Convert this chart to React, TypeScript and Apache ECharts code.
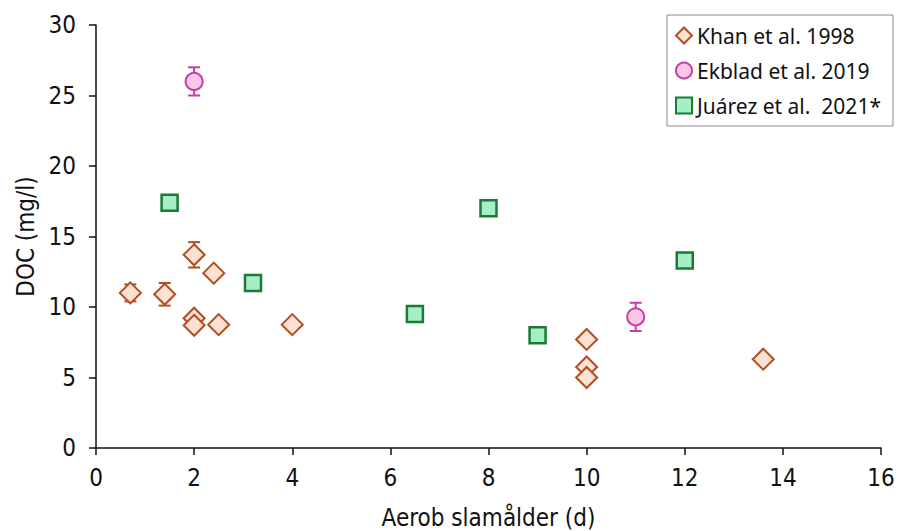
import React, { useEffect, useRef } from "react";
import * as echarts from "echarts";

const khanX = [0.7, 1.4, 2, 2.4, 2, 2, 2.5, 4, 10, 10, 10, 13.6];
const khanY = [11.0, 10.9, 13.7, 12.4, 9.2, 8.7, 8.75, 8.75, 7.7, 5.75, 5.0, 6.3];
const khanErr = [0.6, 0.8, 0.9, 0.3, 0, 0, 0, 0, 0, 0, 0, 0];

const ekbladX = [2, 11];
const ekbladY = [26.0, 9.3];
const ekbladErr = [1.0, 1.0];

const juarezX = [1.5, 3.2, 6.5, 8, 9, 12];
const juarezY = [17.4, 11.7, 9.5, 17.0, 8.0, 13.3];

const seriesNames = ["Khan et al. 1998", "Ekblad et al. 2019", "Juárez et al.  2021*"];

const KHAN_STROKE = "#b04e22";
const KHAN_FILL = "#fde1d3";
const EK_STROKE = "#c83ca8";
const EK_FILL = "#f8c8e6";
const JU_STROKE = "#1a7a36";
const JU_FILL = "#a6eec6";

const tickFont = "'DejaVu Sans Condensed', 'Liberation Sans Narrow', sans-serif";
const legendFont = "'Noto Sans', 'Open Sans', sans-serif";

function errData(xs: number[], ys: number[], es: number[]) {
  const out: number[][] = [];
  xs.forEach((x, i) => {
    if (es[i] > 0) out.push([x, ys[i] - es[i], ys[i] + es[i]]);
  });
  return out;
}

function errSeries(data: number[][], color: string) {
  return {
    type: "custom",
    silent: true,
    z: 1,
    data,
    renderItem: (params: any, api: any) => {
      const x = api.value(0);
      const lo = api.coord([x, api.value(1)]);
      const hi = api.coord([x, api.value(2)]);
      const w = 6;
      const style = { stroke: color, lineWidth: 2 };
      return {
        type: "group",
        children: [
          { type: "line", shape: { x1: lo[0], y1: lo[1], x2: hi[0], y2: hi[1] }, style },
          { type: "line", shape: { x1: lo[0] - w, y1: lo[1], x2: lo[0] + w, y2: lo[1] }, style },
          { type: "line", shape: { x1: hi[0] - w, y1: hi[1], x2: hi[0] + w, y2: hi[1] }, style },
        ],
      };
    },
  };
}

export default function App() {
  const ref = useRef<HTMLDivElement>(null);
  useEffect(() => {
    if (!ref.current) return;
    const chart = echarts.init(ref.current, null, { renderer: "svg" });
    chart.setOption({
      animation: false,
      backgroundColor: "#ffffff",
      grid: { left: 96, right: 17, top: 25, bottom: 83, containLabel: false, outerBoundsMode: "none" },
      legend: {
        orient: "vertical",
        left: 667,
        top: 15,
        padding: [10, 12, 10, 8],
        itemGap: 14,
        itemWidth: 16,
        itemHeight: 16,
        borderColor: "#8a8a8a",
        borderWidth: 1,
        backgroundColor: "#ffffff",
        textStyle: { fontFamily: legendFont, fontSize: 21, color: "#111" },
        data: [
          { name: seriesNames[0], icon: "diamond" },
          { name: seriesNames[1], icon: "circle" },
          { name: seriesNames[2], icon: "rect" },
        ],
      },
      xAxis: {
        type: "value",
        min: 0,
        max: 16,
        interval: 2,
        name: "Aerob slamålder (d)",
        nameLocation: "middle",
        nameGap: 58,
        nameTextStyle: { fontFamily: tickFont, fontSize: 24, color: "#111" },
        axisLine: { lineStyle: { color: "#111", width: 1.5 } },
        axisTick: { show: true, length: 7, lineStyle: { color: "#111", width: 1.5 } },
        axisLabel: { fontFamily: tickFont, fontSize: 24, color: "#111", margin: 18 },
        splitLine: { show: false },
      },
      yAxis: {
        type: "value",
        min: 0,
        max: 30,
        interval: 5,
        name: "DOC (mg/l)",
        nameLocation: "middle",
        nameGap: 58,
        nameTextStyle: { fontFamily: tickFont, fontSize: 24, color: "#111" },
        axisLine: { show: true, lineStyle: { color: "#111", width: 1.5 } },
        axisTick: { show: true, length: 7, lineStyle: { color: "#111", width: 1.5 } },
        axisLabel: { fontFamily: tickFont, fontSize: 24, color: "#111", margin: 20 },
        splitLine: { show: false },
      },
      series: [
        errSeries(errData(khanX, khanY, khanErr), KHAN_STROKE),
        errSeries(errData(ekbladX, ekbladY, ekbladErr), EK_STROKE),
        {
          name: seriesNames[0],
          type: "scatter",
          symbol: "diamond",
          symbolSize: [21, 21],
          z: 3,
          itemStyle: { color: KHAN_FILL, borderColor: KHAN_STROKE, borderWidth: 2, opacity: 1 },
          data: khanX.map((x, i) => [x, khanY[i]]),
        },
        {
          name: seriesNames[1],
          type: "scatter",
          symbol: "circle",
          symbolSize: 17,
          z: 3,
          itemStyle: { color: EK_FILL, borderColor: EK_STROKE, borderWidth: 2, opacity: 1 },
          data: ekbladX.map((x, i) => [x, ekbladY[i]]),
        },
        {
          name: seriesNames[2],
          type: "scatter",
          symbol: "rect",
          symbolSize: 16,
          z: 3,
          itemStyle: { color: JU_FILL, borderColor: JU_STROKE, borderWidth: 2.5, opacity: 1 },
          data: juarezX.map((x, i) => [x, juarezY[i]]),
        },
      ],
    });
    return () => chart.dispose();
  }, []);
  return (
    <div
      ref={ref}
      style={{ position: "absolute", left: 0, top: 0, width: 898, height: 531 }}
    />
  );
}
